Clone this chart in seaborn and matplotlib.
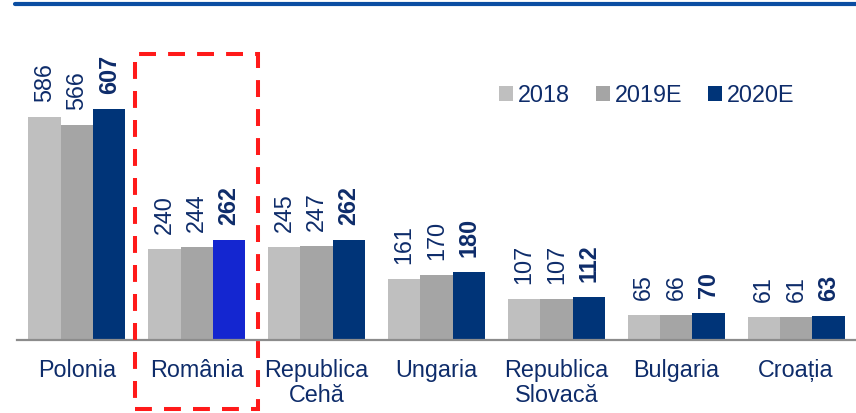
import pandas as pd
import matplotlib.pyplot as plt
import seaborn as sns
from matplotlib.lines import Line2D
from matplotlib.patches import Rectangle

countries = ['Polonia', 'România', 'Republica\nCehă', 'Ungaria',
             'Republica\nSlovacă', 'Bulgaria', 'Croația']
years = ['2018', '2019E', '2020E']
v2018 = [586, 240, 245, 161, 107, 65, 61]
v2019 = [566, 244, 247, 170, 107, 66, 61]
v2020 = [607, 262, 262, 180, 112, 70, 63]

df = pd.DataFrame({
    'country': countries * 3,
    'year': [years[0]] * 7 + [years[1]] * 7 + [years[2]] * 7,
    'value': v2018 + v2019 + v2020,
})

sns.set_theme(style='white')
plt.rcParams['font.family'] = ['Liberation Sans', 'DejaVu Sans']

navy_text = '#0E2C6A'
colors = ['#BFBFBF', '#A5A5A5', '#003478']
fs = 16.8

W, H = 856, 414
fig = plt.figure(figsize=(W / 100, H / 100), dpi=100)
ax = fig.add_axes([17 / W, 73 / H, 839 / W, 304 / H])

sns.barplot(data=df, x='country', y='value', hue='year', palette=colors,
            width=0.81, saturation=1, linewidth=0, ax=ax)

# highlight Romania 2020E
ax.containers[2][1].set_facecolor('#1426D0')

for i, cont in enumerate(ax.containers):
    for bar, val in zip(cont, cont.datavalues):
        ax.annotate(f'{val:.0f}', (bar.get_x() + bar.get_width() / 2, bar.get_height()),
                    xytext=(0, 11.5), textcoords='offset points', rotation=90,
                    ha='center', va='bottom', fontsize=fs, color=navy_text,
                    fontweight='bold' if i == 2 else 'normal')

ax.set_xlim(-0.5, 6.5)
ax.set_ylim(0, 800)
ax.set_xlabel('')
ax.set_ylabel('')
ax.set_yticks([])
ax.tick_params(axis='x', length=0, pad=13, labelsize=fs, labelcolor=navy_text)
for lab in ax.get_xticklabels():
    lab.set_linespacing(1.1)
for s in ['top', 'left', 'right']:
    ax.spines[s].set_visible(False)
ax.spines['bottom'].set_color('#8C8C8C')
ax.spines['bottom'].set_linewidth(1.6)

leg = ax.legend(loc='center left', bbox_to_anchor=(499 / W, 1 - 96 / H),
                bbox_transform=fig.transFigure, ncol=3, frameon=False,
                fontsize=fs, handlelength=0.6, handleheight=0.6,
                handletextpad=0.22, columnspacing=1.1, borderpad=0,
                borderaxespad=0)
for t in leg.get_texts():
    t.set_color(navy_text)

# top rule
fig.add_artist(Line2D([15 / W, 1], [1 - 5 / H, 1 - 5 / H], color='#0B4EA2',
                      lw=3, transform=fig.transFigure))

# red dashed highlight box
fig.add_artist(Rectangle((135 / W, 1 - 410 / H), (258 - 135) / W, (410 - 55) / H,
                         transform=fig.transFigure, fill=False, edgecolor='#FF1A1A',
                         lw=2.9, linestyle=(0, (4.2, 3)), clip_on=False))

fig.savefig('out.png', dpi=100)
